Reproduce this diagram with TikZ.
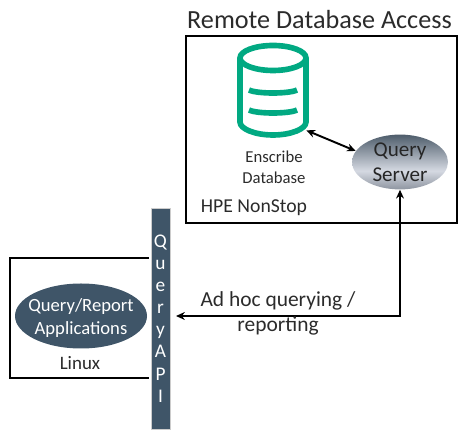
\documentclass[tikz,border=0pt]{standalone}
\usepackage{fontspec}
\setmainfont{Carlito}
\usetikzlibrary{shapes.geometric,arrows.meta}
\definecolor{slateblue}{HTML}{3F5568}
\definecolor{dbgreen}{HTML}{01A982}
\definecolor{inkgray}{HTML}{2B2B2B}
\definecolor{serverdark}{HTML}{4E5D6B}
\definecolor{serverlight}{HTML}{D5D9E2}
\definecolor{serverlow}{HTML}{8E95A0}
\pgfdeclareverticalshading{servershade}{100bp}{color(0bp)=(serverlow); color(25bp)=(serverlow); color(42bp)=(serverlight); color(75bp)=(serverdark); color(100bp)=(serverdark)}
\tikzset{
  box/.style={draw=black, line width=1.1pt},
  caption/.style={text=inkgray, align=center, inner sep=0pt},
  link/.style={draw=black, line width=1.1pt, {Stealth[length=5pt,width=4.5pt]}-{Stealth[length=5pt,width=4.5pt]}}
}
\begin{document}
\begin{tikzpicture}[x=0.02cm, y=-0.02cm]
\useasboundingbox (0,0) rectangle (470,445);
% frames
\draw[box] (186,36) rectangle (457,223);
\draw[box] (149,258) -- (10,258) -- (10,378) -- (149,378);
\node[caption, font=\fontsize{14.9}{16}\selectfont] (title) at (319.5,20) {Remote Database Access};
% database icon
\node[minimum width=66*0.02cm, minimum height=87*0.02cm, inner sep=0pt] (db) at (273,86.5) {};
\draw[dbgreen, line width=3.2pt] (273,58) ellipse [x radius=33, y radius=12.5];
\draw[dbgreen, line width=3.2pt] (240,58) -- (240,122) .. controls (240,129) and (255,135) .. (273,135) .. controls (291,135) and (306,129) .. (306,122) -- (306,58);
\foreach \y in {90,110} {
  \draw[dbgreen, line width=3.2pt] (249,\y) .. controls (257,\y+4) and (289,\y+4) .. (297,\y);
}
\node[caption, font=\fontsize{9.5}{12}\selectfont] (dblabel) at (274,167) {Enscribe\\Database};
\node[caption, font=\fontsize{11.2}{13}\selectfont] (nonstop) at (254,208) {HPE NonStop};
% query server
\node[ellipse, shading=servershade, minimum width=96*0.02cm, minimum height=48*0.02cm, inner sep=0pt, caption, text=black!85, font=\fontsize{12}{14.2}\selectfont] (server) at (400,162) {Query\\Server};
% query api bar
\node[draw=black!20, fill=slateblue, text=white, minimum width=19*0.02cm, minimum height=221*0.02cm, inner sep=0pt, align=center, font=\fontsize{11}{12.6}\selectfont] (api) at (160.5,318.5) {Q\\u\\e\\r\\y\\A\\P\\I};
% applications
\node[ellipse, fill=slateblue, minimum width=132*0.02cm, minimum height=65*0.02cm, inner sep=0pt] (apps) at (81,316) {};
\node[caption, text=white, font=\fontsize{10.6}{13.6}\selectfont] (appstext) at (81,318) {Query/Report\\Applications};
\node[caption, font=\fontsize{10.8}{13}\selectfont] (linux) at (80,363) {Linux};
% connectors
\coordinate (apiport) at (176,316);
\draw[link] (db.south east) -- (server.166);
\draw[link] (server.south) |- (apiport);
\node[caption, font=\fontsize{12.2}{14.2}\selectfont] (adhoc) at (278,313) {Ad hoc querying /\\reporting};
\end{tikzpicture}
\end{document}
